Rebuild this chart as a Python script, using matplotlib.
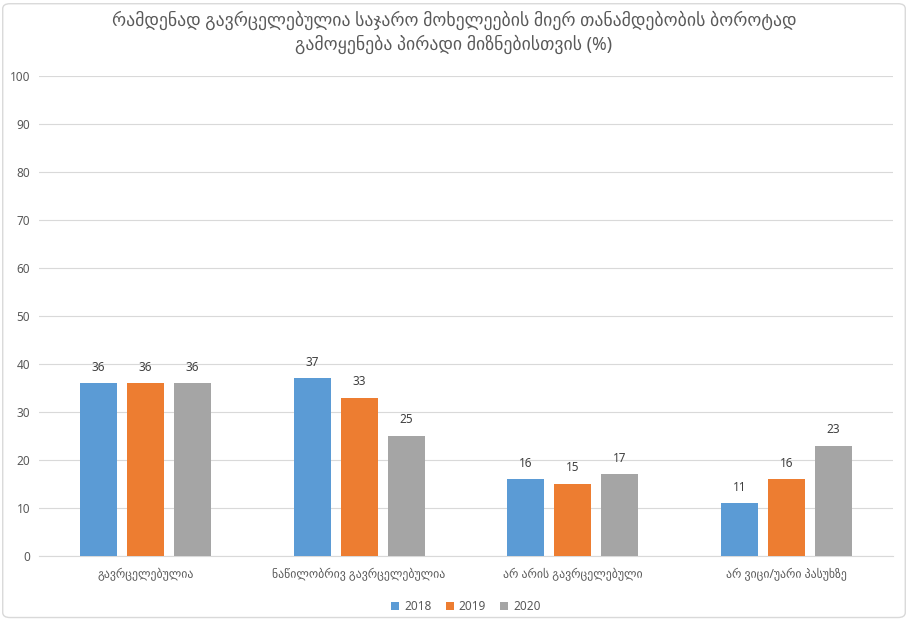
import numpy as np
import matplotlib
matplotlib.use("Agg")
import matplotlib.pyplot as plt
from matplotlib.patches import FancyBboxPatch

plt.rcParams['font.family'] = ['Noto Sans', 'DejaVu Sans']

# Dados
categorias = ["გავრცელებულია", "ნაწილობრივ გავრცელებულია",
              "არ არის გავრცელებული", "არ ვიცი/უარი პასუხზე"]
anos = ["2018", "2019", "2020"]
v2018 = [36, 37, 16, 11]
v2019 = [36, 33, 15, 16]
v2020 = [36, 25, 17, 23]
cores = ["#5B9BD5", "#ED7D31", "#A5A5A5"]
titulo = ("რამდენად გავრცელებულია საჯარო მოხელეების მიერ თანამდებობის ბოროტად\n"
          "გამოყენება პირადი მიზნებისთვის (%)")

fig = plt.figure(figsize=(9.08, 6.2), dpi=100)
ax = fig.add_axes([0.0426, 0.1032, 0.941, 0.7742])

# borda arredondada do grafico
fig.patches.append(FancyBboxPatch((0.003, 0.004), 0.994, 0.99, boxstyle="round,pad=0,rounding_size=0.008",
                                  transform=fig.transFigure, fill=False, edgecolor="#D9D9D9", lw=1))

x = np.arange(len(categorias))
largura = 0.173
desloc = 0.22
for i, (serie, cor, ano) in enumerate(zip([v2018, v2019, v2020], cores, anos)):
    pos = x + (i - 1) * desloc
    barras = ax.bar(pos, serie, width=largura, color=cor, label=ano, zorder=3)
    for b, v in zip(barras, serie):
        ax.text(b.get_x() + b.get_width() / 2, v + 2, str(v), ha="center", va="bottom",
                fontsize=8.5, color="#404040")

ax.set_xlim(-0.5, len(categorias) - 0.5)
ax.set_ylim(0, 100)
ax.set_yticks(range(0, 101, 10))
ax.set_xticks(x)
ax.set_xticklabels(categorias)
ax.grid(axis="y", color="#D9D9D9", lw=0.8, zorder=0)
for s in ["top", "right", "left"]:
    ax.spines[s].set_visible(False)
ax.spines["bottom"].set_color("#D9D9D9")
ax.tick_params(axis="both", length=0, labelsize=8.5, colors="#595959")
ax.tick_params(axis="x", pad=9)
ax.tick_params(axis="y", pad=6)

fig.text(0.5, 0.982, titulo, ha="center", va="top", fontsize=12.8, color="#595959", linespacing=1.3)

ax.legend(loc="upper center", bbox_to_anchor=(0.5, -0.07), ncol=3, frameon=False,
          fontsize=8.5, handlelength=0.7, handleheight=0.7, handletextpad=0.4, columnspacing=1.2,
          labelcolor="#595959")

fig.savefig("out.png", dpi=100)
